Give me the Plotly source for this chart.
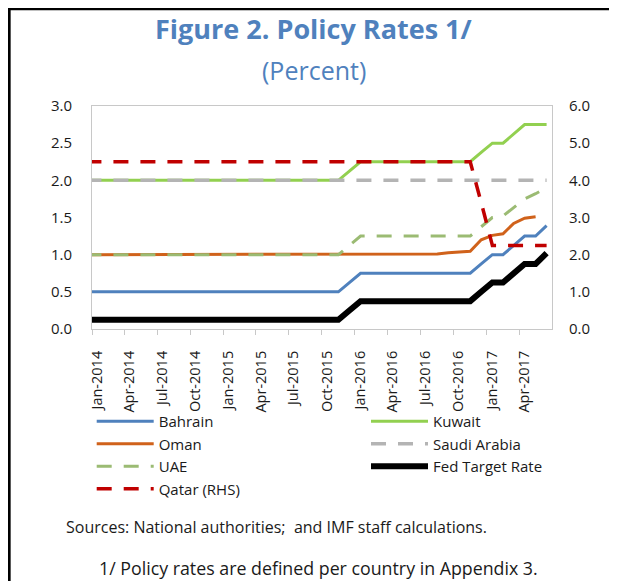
import pandas as pd
import plotly.graph_objects as go

# Months (Dec-2013 .. Jun-2017), monthly averages plotted mid-month
months = [d.strftime("%Y-%m") for d in pd.date_range("2013-12-01", "2017-06-01", freq="MS")]

tick_vals = ["2014-01-01", "2014-04-01", "2014-07-01", "2014-10-01",
             "2015-01-01", "2015-04-01", "2015-07-01", "2015-10-01",
             "2016-01-01", "2016-04-01", "2016-07-01", "2016-10-01",
             "2017-01-01", "2017-04-01"]
tick_text = ["Jan-2014", "Apr-2014", "Jul-2014", "Oct-2014",
             "Jan-2015", "Apr-2015", "Jul-2015", "Oct-2015",
             "Jan-2016", "Apr-2016", "Jul-2016", "Oct-2016",
             "Jan-2017", "Apr-2017"]

# Dec13 | 2014 Jan..Dec | 2015 Jan..Dec | 2016 Jan..Dec | 2017 Jan..Jun
bahrain = [0.5,   0.5, 0.5, 0.5, 0.5, 0.5, 0.5, 0.5, 0.5, 0.5, 0.5, 0.5, 0.5,   0.5, 0.5, 0.5, 0.5, 0.5, 0.5, 0.5, 0.5, 0.5, 0.5, 0.5, 0.625,   0.75, 0.75, 0.75, 0.75, 0.75, 0.75, 0.75, 0.75, 0.75, 0.75, 0.75, 0.875,   1.0, 1.0, 1.12, 1.25, 1.25, 1.39]
kuwait = [2.0,   2.0, 2.0, 2.0, 2.0, 2.0, 2.0, 2.0, 2.0, 2.0, 2.0, 2.0, 2.0,   2.0, 2.0, 2.0, 2.0, 2.0, 2.0, 2.0, 2.0, 2.0, 2.0, 2.0, 2.125,   2.25, 2.25, 2.25, 2.25, 2.25, 2.25, 2.25, 2.25, 2.25, 2.25, 2.25, 2.375,   2.5, 2.5, 2.625, 2.75, 2.75, 2.75]
oman = [1.0,   1.0, 1.0, 1.0, 1.0, 1.0, 1.0, 1.0, 1.0, 1.0, 1.0, 1.0, 1.0,   1.0, 1.0, 1.0, 1.0, 1.0, 1.0, 1.0, 1.0, 1.0, 1.0, 1.0, 1.0,   1.0, 1.0, 1.0, 1.0, 1.0, 1.0, 1.0, 1.01, 1.025, 1.035, 1.045, 1.2,   1.26, 1.28, 1.42, 1.49, 1.51, None]
saudi = [2.0,   2.0, 2.0, 2.0, 2.0, 2.0, 2.0, 2.0, 2.0, 2.0, 2.0, 2.0, 2.0,   2.0, 2.0, 2.0, 2.0, 2.0, 2.0, 2.0, 2.0, 2.0, 2.0, 2.0, 2.0,   2.0, 2.0, 2.0, 2.0, 2.0, 2.0, 2.0, 2.0, 2.0, 2.0, 2.0, 2.0,   2.0, 2.0, 2.0, 2.0, 2.0, 2.0]
uae = [1.0,   1.0, 1.0, 1.0, 1.0, 1.0, 1.0, 1.0, 1.0, 1.0, 1.0, 1.0, 1.0,   1.0, 1.0, 1.0, 1.0, 1.0, 1.0, 1.0, 1.0, 1.0, 1.0, 1.0, 1.125,   1.25, 1.25, 1.25, 1.25, 1.25, 1.25, 1.25, 1.25, 1.25, 1.25, 1.25, 1.375,   1.5, 1.52, 1.63, 1.75, 1.82, 1.9]
fed = [0.125,   0.125, 0.125, 0.125, 0.125, 0.125, 0.125, 0.125, 0.125, 0.125, 0.125, 0.125, 0.125,   0.125, 0.125, 0.125, 0.125, 0.125, 0.125, 0.125, 0.125, 0.125, 0.125, 0.125, 0.25,   0.375, 0.375, 0.375, 0.375, 0.375, 0.375, 0.375, 0.375, 0.375, 0.375, 0.375, 0.5,   0.625, 0.625, 0.75, 0.875, 0.875, 1.02]
qatar_rhs = [4.5,   4.5, 4.5, 4.5, 4.5, 4.5, 4.5, 4.5, 4.5, 4.5, 4.5, 4.5, 4.5,   4.5, 4.5, 4.5, 4.5, 4.5, 4.5, 4.5, 4.5, 4.5, 4.5, 4.5, 4.5,   4.5, 4.5, 4.5, 4.5, 4.5, 4.5, 4.5, 4.5, 4.5, 4.5, 4.5, 3.4,   2.25, 2.25, 2.25, 2.25, 2.25, 2.25]

FONT = "Open Sans"
TXT = "#1a1a1a"
GRAY = "#C8C8C8"
W, H = 617, 581
OFF = 8  # page body margin offset of the plot div
# plot area in page pixels: left 91.7, right 551.7, top 106, bottom 329
ML = 91.7 - OFF
MR = W - (551.7 - OFF)
MT = 106 - OFF
MB = H - (329 - OFF)

fig = go.Figure()

def add(name, y, color, width, dash="solid", yaxis="y", legend="legend"):
    fig.add_trace(go.Scatter(
        x=months, y=y, name=name, mode="lines", yaxis=yaxis, legend=legend,
        xperiod="M1", xperiodalignment="middle",
        line=dict(color=color, width=width, dash=dash),
        connectgaps=False, hoverinfo="skip"))

add("Bahrain", bahrain, "#4F81BD", 3)
add("Kuwait", kuwait, "#92D050", 3, legend="legend2")
add("Oman", oman, "#D0621B", 3)
add("Saudi Arabia", saudi, "#B4B4B4", 3.5, "15px,12px", legend="legend2")
add("UAE", uae, "#9BBB73", 3, "15px,12px")
add("Fed Target Rate", fed, "#000000", 6, legend="legend2")
add("Qatar (RHS)", qatar_rhs, "#C00000", 3.5, "15px,12px", "y2")

pw = W - ML - MR
ph = H - MT - MB

def px(x):  # page x -> paper fraction
    return (x - OFF - ML) / pw

def py(y):  # page y -> paper fraction
    return (H - MB - (y - OFF)) / ph

legend_common = dict(orientation="v", xref="container", yref="container",
                     xanchor="left", yanchor="top", itemwidth=57,
                     font=dict(size=15, family=FONT, color=TXT),
                     bgcolor="rgba(0,0,0,0)", borderwidth=0, traceorder="normal")

fig.update_layout(
    width=W, height=H,
    margin=dict(l=ML, r=MR, t=MT, b=MB, autoexpand=False),
    paper_bgcolor="white", plot_bgcolor="white",
    font=dict(family=FONT, size=15, color=TXT),
    showlegend=True,
    legend=dict(x=(91.7 - OFF) / W, y=1 - (405 - OFF) / H, **legend_common),
    legend2=dict(x=(366 - OFF) / W, y=1 - (405 - OFF) / H, **legend_common),
    xaxis=dict(type="date", range=["2014-01-01", "2017-07-01"],
               tickvals=tick_vals, ticktext=tick_text, tickangle=-90,
               ticks="outside", ticklen=5, tickcolor=GRAY,
               ticklabelstandoff=10, ticklabelshift=5,
               showline=True, linecolor=GRAY, linewidth=1, mirror=True,
               showgrid=False, zeroline=False, automargin=False,
               tickfont=dict(size=14.5, family=FONT, color=TXT)),
    yaxis=dict(range=[0, 3], dtick=0.5, tickformat=".1f",
               showline=True, linecolor=GRAY, linewidth=1, mirror=True,
               showgrid=False, zeroline=False, ticks="", automargin=False,
               ticklabelstandoff=16,
               tickfont=dict(size=15, family=FONT, color=TXT)),
    yaxis2=dict(range=[0, 6], dtick=1, tickformat=".1f", overlaying="y", side="right",
                showline=False, showgrid=False, zeroline=False, ticks="", automargin=False,
                ticklabelstandoff=16,
                tickfont=dict(size=15, family=FONT, color=TXT)),
    annotations=[
        dict(text="<b>Figure 2. Policy Rates 1/</b>", xref="paper", yref="paper",
             x=px(313.5), y=py(28), xanchor="center", yanchor="middle", showarrow=False,
             font=dict(size=27, family=FONT, color="#4F81BD")),
        dict(text="(Percent)", xref="paper", yref="paper",
             x=px(313.5), y=py(70), xanchor="center", yanchor="middle", showarrow=False,
             font=dict(size=25, family=FONT, color="#4F81BD")),
        dict(text="Sources: National authorities;  and IMF staff calculations.", xref="paper", yref="paper",
             x=px(63.3), y=py(526.7), xanchor="left", yanchor="middle", showarrow=False,
             font=dict(size=16, family=FONT, color=TXT)),
        dict(text="1/ Policy rates are defined per country in Appendix 3.", xref="paper", yref="paper",
             x=px(96.7), y=py(568), xanchor="left", yanchor="middle", showarrow=False,
             font=dict(size=17.8, family=FONT, color=TXT)),
    ],
    shapes=[
        dict(type="line", xref="paper", yref="paper", x0=px(9), x1=px(9), y0=py(7.7), y1=py(H + 20),
             line=dict(color="black", width=2.7)),
        dict(type="line", xref="paper", yref="paper", x0=px(7.7), x1=px(W + 20), y0=py(9), y1=py(9),
             line=dict(color="black", width=2.7)),
    ],
)

fig.write_html("out.html")
